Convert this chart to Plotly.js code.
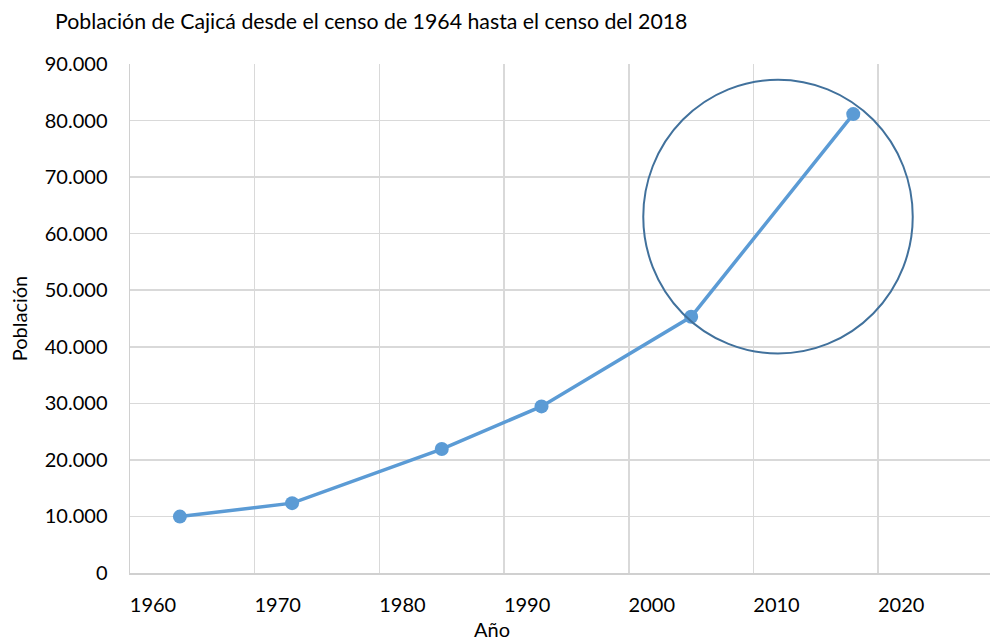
<!DOCTYPE html>
<html>
<head>
<meta charset="utf-8">
<script src="https://cdn.plot.ly/plotly-3.0.1.min.js"></script>
<style>html,body{margin:0;padding:0;background:#fff;}#chart{width:990px;height:641px;}</style>
</head>
<body>
<div id="chart"></div>
<script>
const years = [1964, 1973, 1985, 1993, 2005, 2018];
const population = [9975, 12350, 21915, 29460, 45300, 81140];
const chartTitle = "Población de Cajicá desde el censo de 1964 hasta el censo del 2018";
const xTitle = "Año";
const yTitle = "Población";
const highlight = {x0: 2001.16, x1: 2022.77, y0: 38800, y1: 87220};

const font = "Lato, 'Open Sans', sans-serif";
const trace = {
  x: years, y: population, type: 'scatter', mode: 'lines+markers',
  line: {color: '#5B9BD5', width: 3.5},
  marker: {color: '#5B9BD5', size: 14},
  hoverinfo: 'x+y'
};
const layout = {
  width: 990, height: 641,
  margin: {l: 130, r: 0, t: 64, b: 68},
  paper_bgcolor: '#fff', plot_bgcolor: '#fff',
  separators: ',.',
  font: {family: font, size: 20, color: '#000'},
  showlegend: false,
  title: {text: chartTitle, x: 55/990, xanchor: 'left', xref: 'container', y: 1 - 22/641, yanchor: 'middle', yref: 'container', font: {family: font, size: 21.3, color: '#000'}},
  xaxis: {
    range: [1960, 1960 + 860/12.47], dtick: 10, tick0: 1960,
    showgrid: true, gridcolor: '#d9d9d9', gridwidth: 1.5,
    showline: true, linecolor: '#d0d0d0', linewidth: 1.5,
    zeroline: false, ticks: '', ticklabelshift: 23, ticklabelstandoff: 13,
    tickfont: {family: font, size: 20, color: '#000'}
  },
  yaxis: {
    range: [0, 90000], dtick: 10000, tickformat: ',.0f',
    showgrid: true, gridcolor: '#d9d9d9', gridwidth: 1.5,
    showline: true, linecolor: '#d0d0d0', linewidth: 1.5,
    zeroline: false, ticks: '', ticklabelstandoff: 17,
    tickfont: {family: font, size: 20, color: '#000'},
    title: {text: yTitle, standoff: 12, font: {family: font, size: 20, color: '#000'}}
  },
  shapes: [{
    type: 'circle', xref: 'x', yref: 'y',
    x0: highlight.x0, x1: highlight.x1, y0: highlight.y0, y1: highlight.y1,
    line: {color: '#41719C', width: 2}
  }],
  annotations: [{
    text: xTitle, xref: 'paper', yref: 'paper',
    x: (492 - 130)/860, y: -(629 - 573)/509, xanchor: 'center', yanchor: 'middle',
    showarrow: false, font: {family: font, size: 20, color: '#000'}
  }]
};
Plotly.newPlot('chart', [trace], layout, {displayModeBar: false, staticPlot: true});
</script>
</body>
</html>
